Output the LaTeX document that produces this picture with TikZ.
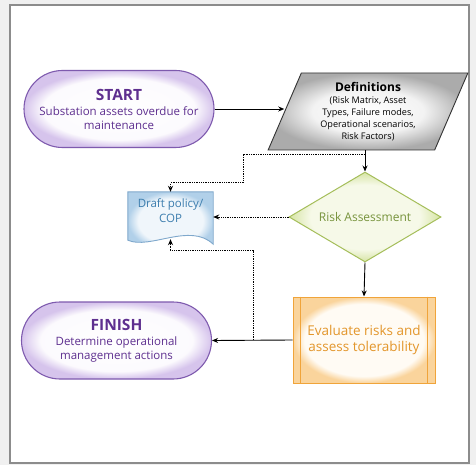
\documentclass[tikz,border=0pt]{standalone}
\usepackage{fontspec}
\setmainfont{Open Sans}
\usetikzlibrary{shapes.geometric,shapes.misc,arrows.meta}
\definecolor{purpleline}{HTML}{7E5AAE}
\definecolor{purplefill}{HTML}{D6C4EC}
\definecolor{purpletext}{HTML}{5E2F8F}
\definecolor{grayfill}{HTML}{ABABAB}
\definecolor{greenline}{HTML}{A5BE5A}
\definecolor{greenfill}{HTML}{D6E4A4}
\definecolor{greencenter}{HTML}{F6F9E8}
\definecolor{greentext}{HTML}{77933C}
\definecolor{blueline}{HTML}{7FA8CC}
\definecolor{bluefill}{HTML}{B1D0E9}
\definecolor{bluecenter}{HTML}{F0F6FB}
\definecolor{bluetext}{HTML}{3C7DAE}
\definecolor{orangeline}{HTML}{F0A43A}
\definecolor{orangefill}{HTML}{FAD49C}
\definecolor{orangecenter}{HTML}{FFFBF4}
\definecolor{orangetext}{HTML}{E3962B}
\definecolor{framegray}{HTML}{8C8C8C}
\pgfdeclareradialshading{glowpurple}{\pgfpointorigin}{color(0bp)=(white); color(20bp)=(white!92!purplefill); color(25bp)=(purplefill); color(40bp)=(purplefill)}
\pgfdeclareradialshading{glowgray}{\pgfpointorigin}{color(0bp)=(white); color(14bp)=(white!85!grayfill); color(25bp)=(grayfill); color(40bp)=(grayfill)}
\pgfdeclareradialshading{glowgreen}{\pgfpointorigin}{color(0bp)=(greencenter); color(18bp)=(greencenter); color(25bp)=(greenfill); color(40bp)=(greenfill)}
\pgfdeclareradialshading{glowblue}{\pgfpointorigin}{color(0bp)=(bluecenter); color(19bp)=(bluecenter); color(25bp)=(bluefill); color(40bp)=(bluefill)}
\pgfdeclareradialshading{gloworange}{\pgfpointorigin}{color(0bp)=(orangecenter); color(21bp)=(orangecenter); color(25bp)=(orangefill); color(40bp)=(orangefill)}
\tikzset{
  terminal/.style={rounded rectangle, draw=purpleline, line width=1.1pt,
    shading=glowpurple, text=purpletext, align=center,
    minimum width=190pt, minimum height=77pt, inner sep=0pt,
    font=\fontsize{11.5}{14}\selectfont},
  inputbox/.style={trapezium, trapezium left angle=68, trapezium right angle=112,
    trapezium stretches=true, draw=black!80, line width=0.9pt,
    shading=glowgray, align=center,
    minimum width=200pt, minimum height=77pt, inner sep=0pt,
    font=\fontsize{9.1}{12}\selectfont},
  decision/.style={diamond, draw=greenline, line width=1pt, shading=glowgreen,
    text=greentext, aspect=1.7, inner sep=0pt,
    minimum width=152pt, minimum height=90pt, font=\fontsize{12}{14}\selectfont},
  process/.style={rectangle, draw=orangeline, line width=1pt, shading=gloworange,
    text=orangetext, align=center,
    minimum width=142pt, minimum height=86pt, inner sep=0pt,
    font=\fontsize{13.5}{16.5}\selectfont},
  docbox/.style={rectangle, draw=none, minimum width=85pt, minimum height=46pt,
    inner sep=0pt},
  doclabel/.style={text=bluetext, align=center, font=\fontsize{11.5}{15}\selectfont},
  solidarrow/.style={draw=black, line width=0.9pt, -{Stealth[length=6pt,width=5pt]}},
  dotarrow/.style={draw=black, line width=1pt, dash pattern=on 1.3pt off 1pt,
    -{Stealth[length=6pt,width=5pt]}},
}
\begin{document}
\begin{tikzpicture}[x=1pt,y=-1pt]
\useasboundingbox (0,0) rectangle (476,465);
\fill[black!6] (0,0) rectangle (476,465);
\fill[white] (10,5) rectangle (469,463);
\draw[framegray, line width=2.5pt] (10,5) rectangle (469,463);

\node[terminal] (start) at (119,109)
  {{\fontsize{15.5}{17}\selectfont\bfseries START}\\[1pt]
   Substation assets overdue for\\maintenance};

\node[inputbox] (defs) at (368,111.5)
  {{\fontsize{12}{13}\selectfont\bfseries Definitions}\\
   (Risk Matrix, Asset\\Types, Failure modes,\\Operational scenarios,\\Risk Factors)};

\node[decision] (ra) at (365,217) {Risk Assessment};

\node[process] (eval) at (364,340) {Evaluate risks and\\assess tolerability};
\draw[orangeline, line width=0.8pt] ([xshift=8pt]eval.north west) -- ([xshift=8pt]eval.south west);
\draw[orangeline, line width=0.8pt] ([xshift=-8pt]eval.north east) -- ([xshift=-8pt]eval.south east);

\node[terminal] (finish) at (116.5,340.5)
  {{\fontsize{15.5}{17}\selectfont\bfseries FINISH}\\[1pt]
   Determine operational\\management actions};

\node[docbox] (doc) at (170.5,215) {};
\draw[draw=blueline, line width=0.9pt, shading=glowblue]
  (doc.north west) -- (doc.north east) -- ([yshift=-6pt]doc.south east)
  .. controls (190,222) and (150,250) .. ([yshift=-2pt]doc.south west) -- cycle;
\node[doclabel] (doctext) at (170.5,211) {Draft policy/\\COP};

% solid connectors
\draw[solidarrow] (start.east) -- (start.east -| defs.west);
\draw[solidarrow] (defs.south -| ra.north) -- (ra.north);
\draw[solidarrow] (ra.south) -- (eval.north);
\draw[solidarrow] (eval.west) -- (finish.east);

% dotted connectors
\coordinate (j1) at (365,155);
\coordinate (j2) at (253,340);
\draw[dotarrow] (j1) -- (243,155) -- (243,183) -- (170.5,183) -- (doc.north);
\draw[dotarrow] (ra.west) -- (ra.west -| doc.east);
\draw[dotarrow] (j2) -- (253,250) -- (170.5,250) -- ([yshift=-1pt]doc.south);
\end{tikzpicture}
\end{document}
